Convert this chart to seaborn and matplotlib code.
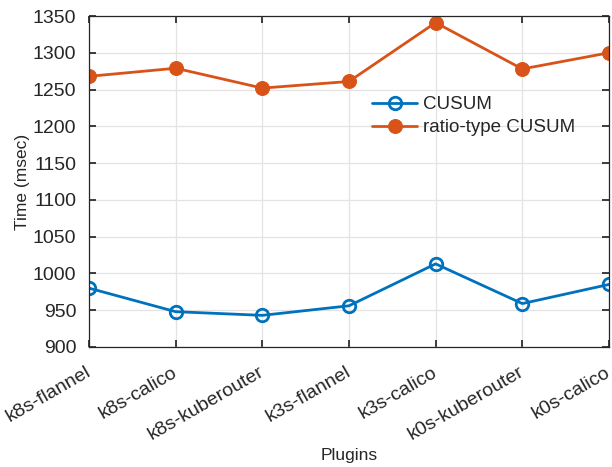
import pandas as pd
import seaborn as sns
import matplotlib.pyplot as plt
from matplotlib.transforms import ScaledTranslation

# data
plugins = ['k8s-flannel', 'k8s-calico', 'k8s-kuberouter', 'k3s-flannel',
           'k3s-calico', 'k0s-kuberouter', 'k0s-calico']
cusum = [980, 948, 943, 956, 1013, 959, 985]
ratio_cusum = [1268, 1279, 1252, 1261, 1341, 1278, 1300]

df = pd.DataFrame({'pos': range(len(plugins)), 'plugin': plugins,
                   'CUSUM': cusum, 'ratio-type CUSUM': ratio_cusum})

sns.set_theme(style='ticks')
plt.rcParams['font.family'] = ['Liberation Sans', 'DejaVu Sans']

blue = '#0072BD'
orange = '#D95319'

fig = plt.figure(figsize=(6.12, 4.67), dpi=100)
ax = fig.add_axes([0.1454, 0.257, 0.8496, 0.7087])

sns.lineplot(data=df, x='pos', y='CUSUM', ax=ax, color=blue, lw=2,
             marker='o', markersize=9, markerfacecolor='none',
             markeredgecolor=blue, markeredgewidth=2, label='CUSUM')
sns.lineplot(data=df, x='pos', y='ratio-type CUSUM', ax=ax, color=orange, lw=2,
             marker='o', markersize=10, markerfacecolor=orange,
             markeredgecolor=orange, label='ratio-type CUSUM')

ax.set_xlim(0, len(plugins) - 1)
ax.set_ylim(900, 1350)
ax.set_yticks(range(900, 1351, 50))
ax.set_xticks(df['pos'])
ax.set_xticklabels(plugins, rotation=30, ha='right', rotation_mode='anchor')
ax.tick_params(direction='in', top=True, right=True, labelsize=14,
               colors='#262626', length=5)
ax.tick_params(axis='x', pad=12)
ax.tick_params(axis='y', pad=9)
# nudge rotated labels slightly left, like the original
shift = ScaledTranslation(-4 / 100, 0, fig.dpi_scale_trans)
for lab in ax.get_xticklabels():
    lab.set_transform(lab.get_transform() + shift)

ax.grid(True, color='#e3e3e3', lw=0.9)
ax.set_axisbelow(True)
for s in ax.spines.values():
    s.set_color('#262626')
    s.set_linewidth(0.9)

ax.set_xlabel('Plugins', fontsize=12.5, color='#262626', labelpad=3)
ax.set_ylabel('Time (msec)', fontsize=12.5, color='#262626', labelpad=2)

ax.legend(loc='upper left', bbox_to_anchor=(0.53, 0.78), frameon=False,
          fontsize=13.5, handlelength=2.4, handletextpad=0.3, labelspacing=0.3,
          borderaxespad=0)

fig.savefig('out.png', dpi=100)
